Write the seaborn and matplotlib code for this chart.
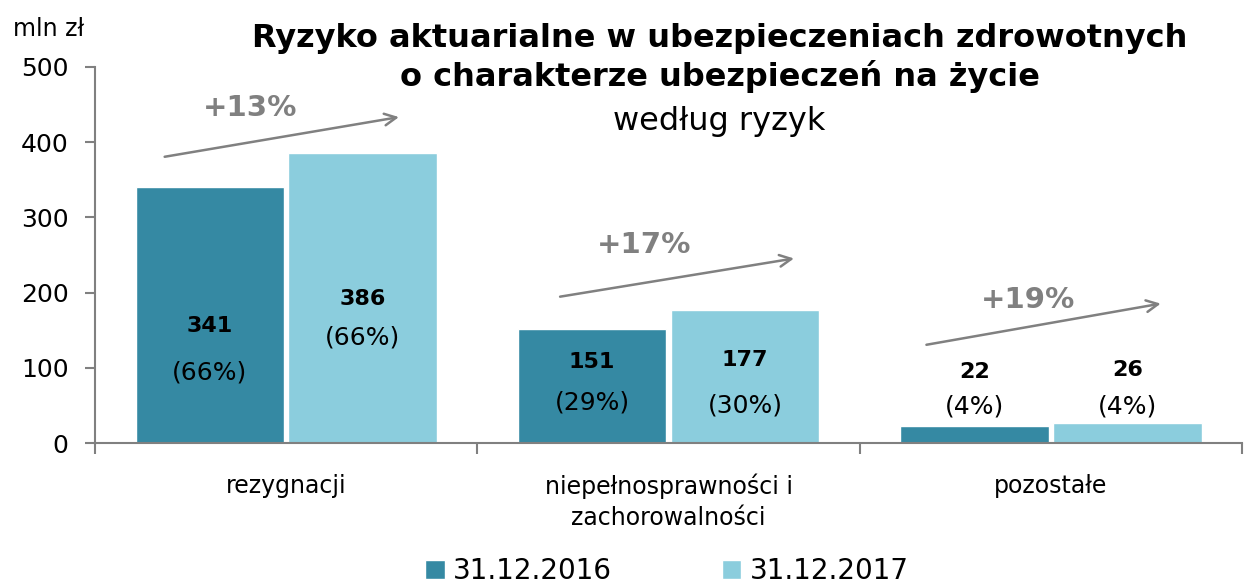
import pandas as pd
import seaborn as sns
import matplotlib.pyplot as plt

# dane (mln zł)
kategorie = ['rezygnacji', 'niepełnosprawności i\nzachorowalności', 'pozostałe']
okresy = ['31.12.2016', '31.12.2017']
wartosci_2016 = [341, 151, 22]
wartosci_2017 = [386, 177, 26]
udzialy_2016 = ['(66%)', '(29%)', '(4%)']
udzialy_2017 = ['(66%)', '(30%)', '(4%)']
zmiany = ['+13%', '+17%', '+19%']

df = pd.DataFrame({
    'kategoria': kategorie * 2,
    'okres': [okresy[0]] * 3 + [okresy[1]] * 3,
    'wartosc': wartosci_2016 + wartosci_2017,
})

dark = '#3589a3'
light = '#8bcddd'
grey = '#808080'

sns.set_theme(style='white')
plt.rcParams['font.family'] = ['DejaVu Sans']
plt.rcParams['text.color'] = 'black'

fig = plt.figure(figsize=(12.45, 5.83), dpi=100)
ax = fig.add_axes([0.0763, 0.2401, 0.9215, 0.645])

sns.barplot(data=df, x='kategoria', y='wartosc', hue='okres', order=kategorie,
            hue_order=okresy, palette=[dark, light], width=0.8, gap=0.03,
            saturation=1, ax=ax)

ax.set_xlim(-0.5, 2.5)
ax.set_ylim(0, 500)
ax.set_yticks([0, 100, 200, 300, 400, 500])
ax.set_xlabel('')
ax.set_ylabel('')
sns.despine(ax=ax)
for s in ['left', 'bottom']:
    ax.spines[s].set_color(grey)
    ax.spines[s].set_linewidth(1.5)

ax.tick_params(axis='y', which='major', left=True, length=7, width=1.5,
               color=grey, pad=12, labelsize=18, labelcolor='black')
ax.tick_params(axis='x', which='major', length=0, pad=22, labelsize=17,
               labelcolor='black')
ax.set_xticks([-0.5, 0.5, 1.5, 2.5], minor=True)
ax.tick_params(axis='x', which='minor', bottom=True, length=8, width=1.5,
               color=grey)
for lbl in ax.get_xticklabels():
    lbl.set_linespacing(1.35)

# położenie etykiet (wartość, udział) w jednostkach osi y
poz_etykiet = [[(155, 94), (108, 54), (94, 48)],
               [(191, 140), (110, 50), (97, 48)]]

containers = ax.containers
for cont, vals, shares, poz in [(containers[0], wartosci_2016, udzialy_2016, poz_etykiet[0]),
                                (containers[1], wartosci_2017, udzialy_2017, poz_etykiet[1])]:
    for bar, v, sh, (y1, y2) in zip(cont, vals, shares, poz):
        cx = bar.get_x() + bar.get_width() / 2
        ax.text(cx, y1, str(v), ha='center', va='center', fontsize=16,
                fontweight='bold', color='black')
        ax.text(cx, y2, sh, ha='center', va='center', fontsize=18,
                color='black')

# strzałki zmian
strzalki = [((-0.325, 380), (0.302, 434)),
            ((0.709, 194), (1.335, 246)),
            ((1.667, 130), (2.294, 186))]
pozycje_zmian = [(-0.095, 445), (0.936, 263), (1.94, 190)]
for (start, end), (tx, ty), txt in zip(strzalki, pozycje_zmian, zmiany):
    ax.annotate('', xy=end, xytext=start,
                arrowprops=dict(arrowstyle='->,head_length=0.7,head_width=0.35',
                                color=grey, lw=1.8))
    ax.text(tx, ty, txt, ha='center', va='center', fontsize=21,
            fontweight='bold', color=grey)

fig.text(0.578, 0.934, 'Ryzyko aktuarialne w ubezpieczeniach zdrowotnych',
         ha='center', va='center', fontsize=23, fontweight='bold')
fig.text(0.578, 0.868, 'o charakterze ubezpieczeń na życie',
         ha='center', va='center', fontsize=23, fontweight='bold')
fig.text(0.578, 0.791, 'według ryzyk', ha='center', va='center', fontsize=23)
fig.text(0.039, 0.950, 'mln zł', ha='center', va='center', fontsize=17)

ax.legend_.remove()
handles, labels = ax.get_legend_handles_labels()
fig.legend(handles, labels, loc='center', bbox_to_anchor=(0.5356, 0.02),
           ncol=2, frameon=False, fontsize=20, handlelength=0.7,
           handleheight=0.7, handletextpad=0.3, columnspacing=3.95)

fig.savefig('out.png', dpi=100)
